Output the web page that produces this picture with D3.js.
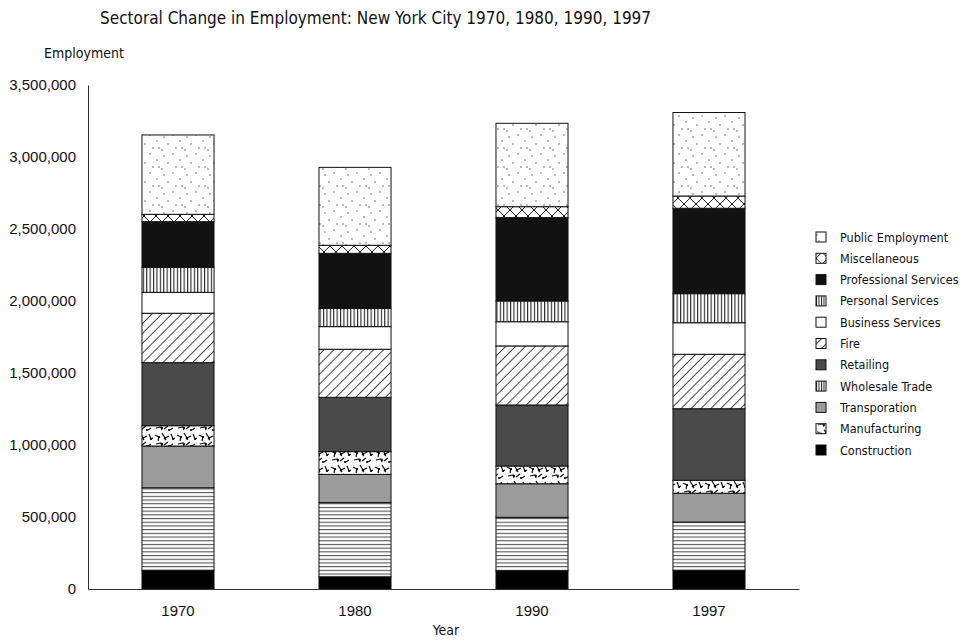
<!DOCTYPE html>
<html lang="en">
<head>
  <meta charset="utf-8"/>
  <title>Sectoral Change in Employment</title>
  <script src="https://d3js.org/d3.v7.min.js"></script>
  <style>
    body { margin: 0; background: #fff; }
    text { font-family: "Liberation Sans Narrow", "DejaVu Sans Condensed", "Liberation Sans", Arial, sans-serif; fill: #111; }
  </style>
</head>
<body>
<svg id="chart" width="963" height="643"></svg>
<script>
// data (employment, persons)
const years = ["1970", "1980", "1990", "1997"];
const construction   = [130000,  85000, 127000, 130000];
const wholesale      = [573000, 515000, 371000, 335000];
const transportation = [290000, 196000, 233000, 200000];
const manufacturing  = [141000, 158000, 123000,  90000];
const retailing      = [438000, 377000, 424000, 497000];
const fire           = [343000, 334000, 410000, 378000];
const business       = [145000, 157000, 168000, 219000];
const personal       = [174000, 127000, 144000, 202000];
const professional   = [317000, 382000, 579000, 593000];
const misc           = [ 51000,  56000,  76000,  85000];
const publicEmp      = [551000, 541000, 579000, 580000];

const yTicks = [0, 500000, 1000000, 1500000, 2000000, 2500000, 3000000, 3500000];

// bottom to top in the bars
const stackKeys = ["Construction", "Wholesale Trade", "Transporation", "Manufacturing", "Retailing",
  "Fire", "Business Services", "Personal Services", "Professional Services", "Miscellaneous", "Public Employment"];
const legendKeys = ["Public Employment", "Miscellaneous", "Professional Services", "Personal Services",
  "Business Services", "Fire", "Retailing", "Wholesale Trade", "Transporation", "Manufacturing", "Construction"];
const seriesValues = {
  "Construction": construction, "Wholesale Trade": wholesale, "Transporation": transportation,
  "Manufacturing": manufacturing, "Retailing": retailing, "Fire": fire, "Business Services": business,
  "Personal Services": personal, "Professional Services": professional, "Miscellaneous": misc,
  "Public Employment": publicEmp
};

const rows = years.map((yr, i) => {
  let r = {year: yr};
  stackKeys.forEach(k => r[k] = seriesValues[k][i]);
  return r;
});

const svg = d3.select("#chart");
const defs = svg.append("defs");

// --- fill patterns ---
let p = defs.append("pattern").attr("id", "dots").attr("patternUnits", "userSpaceOnUse")
  .attr("width", 23).attr("height", 19);
p.append("rect").attr("width", 23).attr("height", 19).attr("fill", "#fff");
[[3,4],[12,2],[19,8],[7,11],[15,15],[1,17],[21,15]].forEach(d =>
  p.append("circle").attr("cx", d[0]).attr("cy", d[1]).attr("r", 0.7).attr("fill", "#444"));

p = defs.append("pattern").attr("id", "xhatch").attr("patternUnits", "userSpaceOnUse")
  .attr("width", 12).attr("height", 12);
p.append("rect").attr("width", 12).attr("height", 12).attr("fill", "#fff");
p.append("path").attr("d", "M0,0L12,12M12,0L0,12").attr("stroke", "#222").attr("stroke-width", 1);

p = defs.append("pattern").attr("id", "vstripe").attr("patternUnits", "userSpaceOnUse")
  .attr("width", 3.4).attr("height", 10);
p.append("rect").attr("width", 3.4).attr("height", 10).attr("fill", "#fff");
p.append("rect").attr("width", 1.1).attr("height", 10).attr("fill", "#222");

p = defs.append("pattern").attr("id", "vstripeIcon").attr("patternUnits", "userSpaceOnUse")
  .attr("width", 2.5).attr("height", 10);
p.append("rect").attr("width", 2.5).attr("height", 10).attr("fill", "#fff");
p.append("rect").attr("width", 1).attr("height", 10).attr("fill", "#222");

p = defs.append("pattern").attr("id", "diag").attr("patternUnits", "userSpaceOnUse")
  .attr("width", 7).attr("height", 10).attr("patternTransform", "rotate(45)");
p.append("rect").attr("width", 7).attr("height", 10).attr("fill", "#fff");
p.append("rect").attr("width", 0.9).attr("height", 10).attr("fill", "#333");

p = defs.append("pattern").attr("id", "hstripe").attr("patternUnits", "userSpaceOnUse")
  .attr("width", 10).attr("height", 3.7);
p.append("rect").attr("width", 10).attr("height", 3.7).attr("fill", "#fff");
p.append("rect").attr("width", 10).attr("height", 1.1).attr("fill", "#555");

p = defs.append("pattern").attr("id", "squig").attr("patternUnits", "userSpaceOnUse")
  .attr("width", 22).attr("height", 16);
p.append("rect").attr("width", 22).attr("height", 16).attr("fill", "#fff");
p.append("path")
  .attr("d", "M1,3l4,2l-1,4M8,1l3,5l4,-2M14,10l-4,3M2,12l5,-1l1,3M17,2l2,5l2,-1M12,8l-2,-2M19,12l-3,2")
  .attr("stroke", "#111").attr("stroke-width", 1.2).attr("fill", "none");
[[5,5],[11,6],[8,12],[19,7],[15,14]].forEach(d =>
  p.append("circle").attr("cx", d[0]).attr("cy", d[1]).attr("r", 1.1).attr("fill", "#000"));

const fills = {
  "Public Employment": "url(#dots)", "Miscellaneous": "url(#xhatch)", "Professional Services": "#121212",
  "Personal Services": "url(#vstripe)", "Business Services": "#fff", "Fire": "url(#diag)",
  "Retailing": "#4a4a4a", "Wholesale Trade": "url(#hstripe)", "Transporation": "#9b9b9b",
  "Manufacturing": "url(#squig)", "Construction": "#000"
};
const iconFills = Object.assign({}, fills, {"Wholesale Trade": "url(#vstripeIcon)", "Personal Services": "url(#vstripeIcon)"});

// --- scales ---
const x = d3.scaleBand().domain(years).range([88, 799]).paddingInner(0.593).paddingOuter(0.305);
const y = d3.scaleLinear().domain([0, 3500000]).range([589, 85]);

const stacked = d3.stack().keys(stackKeys)(rows);

svg.append("g").selectAll("g").data(stacked).join("g")
  .attr("fill", d => fills[d.key])
  .selectAll("rect").data(d => d).join("rect")
  .attr("x", d => x(d.data.year))
  .attr("y", d => y(d[1]))
  .attr("width", x.bandwidth())
  .attr("height", d => y(d[0]) - y(d[1]))
  .attr("stroke", "#111")
  .attr("stroke-width", 1);

// --- axes ---
const yAxis = svg.append("g").attr("transform", "translate(88,0)")
  .call(d3.axisLeft(y).tickValues(yTicks).tickSize(0).tickPadding(12).tickFormat(d3.format(",")));
yAxis.selectAll("text").attr("font-size", 15).style("font-family", "'Liberation Sans', Arial, sans-serif");
yAxis.select(".domain").attr("stroke", "#333");

const xAxis = svg.append("g").attr("transform", "translate(0,589)")
  .call(d3.axisBottom(x).tickSize(0).tickPadding(16));
xAxis.selectAll("text").attr("font-size", 15).style("font-family", "'Liberation Sans', Arial, sans-serif");
xAxis.select(".domain").attr("stroke", "#333");

// --- labels ---
svg.append("text").attr("x", 100).attr("y", 24).attr("font-size", 17)
  .text("Sectoral Change in Employment: New York City 1970, 1980, 1990, 1997");
svg.append("text").attr("x", 44).attr("y", 58).attr("font-size", 14).text("Employment");
svg.append("text").attr("x", 446).attr("y", 635).attr("font-size", 14).attr("text-anchor", "middle").text("Year");

// --- legend ---
const legend = svg.append("g").selectAll("g").data(legendKeys).join("g")
  .attr("transform", (d, i) => `translate(816,${237 + i * 21.3})`);
legend.append("rect").attr("x", 0).attr("y", -5).attr("width", 10).attr("height", 10)
  .attr("fill", d => iconFills[d]).attr("stroke", "#111").attr("stroke-width", 1);
legend.append("text").attr("x", 24).attr("dy", "0.36em").attr("font-size", 12.5).text(d => d);
</script>
</body>
</html>
